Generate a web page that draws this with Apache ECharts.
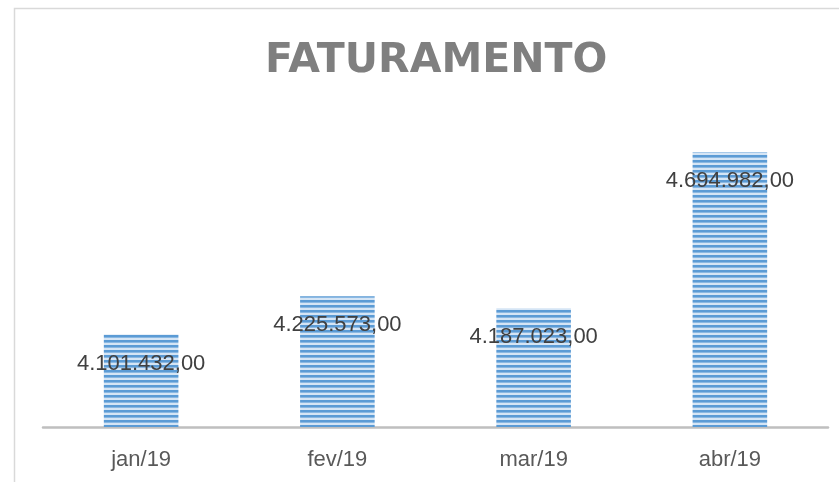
<!DOCTYPE html>
<html>
<head>
<meta charset="utf-8">
<script src="https://cdn.jsdelivr.net/npm/echarts@6/dist/echarts.min.js"></script>
<style>html,body{margin:0;padding:0;background:#fff;}#c{width:839px;height:482px;}</style>
</head>
<body>
<div id="c"></div>
<script>
const categories = ['jan/19', 'fev/19', 'mar/19', 'abr/19'];
const faturamento = [4101432, 4225573, 4187023, 4694982];
const chartTitle = 'FATURAMENTO';

function fmtBR(v) {
  const parts = v.toFixed(2).split('.');
  return parts[0].replace(/\B(?=(\d{3})+(?!\d))/g, '.') + ',' + parts[1];
}

const pat = document.createElement('canvas');
pat.width = 4; pat.height = 5;
const pctx = pat.getContext('2d');
pctx.fillStyle = '#d5e5f5';
pctx.fillRect(0, 0, 4, 5);
pctx.fillStyle = '#5b9bd5';
pctx.fillRect(0, 0, 4, 2);
pctx.fillStyle = '#8ab8e2';
pctx.fillRect(0, 2, 4, 1);

const chart = echarts.init(document.getElementById('c'), null, {renderer: 'canvas'});
chart.setOption({
  animation: false,
  backgroundColor: '#fff',
  title: {
    text: chartTitle,
    left: 260,
    top: 36,
    textStyle: {fontFamily: 'DejaVu Sans', fontWeight: 'bold', fontSize: 41, color: '#7f7f7f'}
  },
  graphic: [{
    type: 'rect', shape: {x: 14.5, y: 8.5, width: 900, height: 600},
    style: {fill: null, stroke: '#d9d9d9', lineWidth: 1.5}, silent: true, z: -1
  }],
  grid: {left: 43, right: 11, top: 120, bottom: 55},
  xAxis: {
    type: 'category',
    data: categories,
    axisLine: {show: true, lineStyle: {color: '#bfbfbf', width: 2.5}},
    axisTick: {show: false},
    axisLabel: {margin: 22, fontFamily: 'Liberation Sans', fontSize: 22, color: '#595959'}
  },
  yAxis: {
    type: 'value', min: 3800000, max: 4800000, show: false,
    splitLine: {show: false}
  },
  series: [{
    type: 'bar',
    data: faturamento,
    barWidth: '38%',
    itemStyle: {color: {image: pat, repeat: 'repeat'}},
    label: {
      show: true,
      position: 'insideTop',
      distance: 18,
      formatter: p => fmtBR(p.value),
      fontFamily: 'Liberation Sans',
      fontSize: 22,
      color: '#404040'
    }
  }]
});
</script>
</body>
</html>
